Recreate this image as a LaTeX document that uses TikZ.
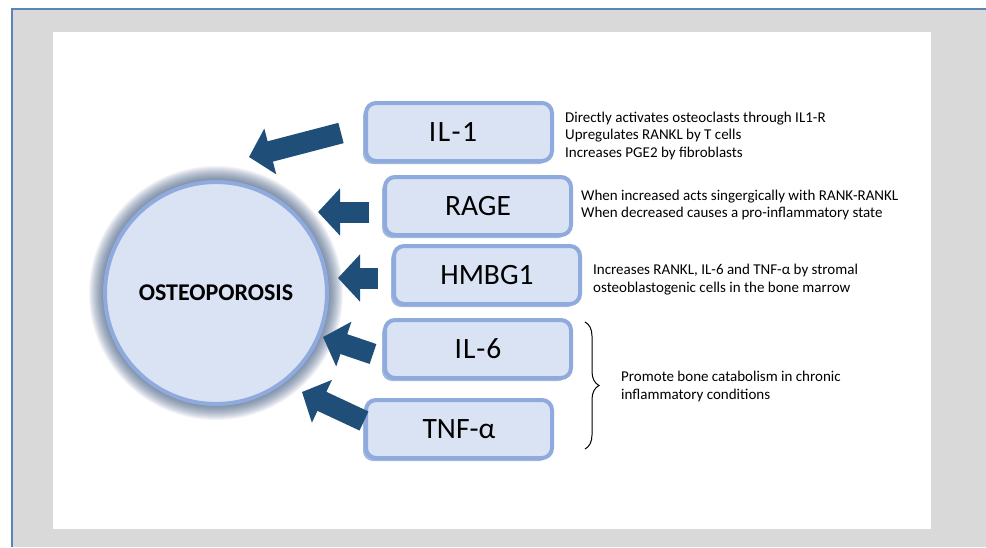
\documentclass[tikz,border=0pt]{standalone}
\usepackage{fontspec}
\setmainfont{Carlito}
\usetikzlibrary{arrows.meta,decorations.pathreplacing,shadows}
\definecolor{boxfill}{HTML}{DAE3F3}
\definecolor{boxline}{HTML}{8FAADC}
\definecolor{boxshadow}{HTML}{A3B8DF}
\definecolor{arrowc}{HTML}{1F4E79}
\definecolor{bggray}{HTML}{D9D9D9}
\definecolor{frameblue}{HTML}{5A84B5}
\definecolor{glowc}{HTML}{34507A}
\tikzset{
  cyto/.style={draw=boxline, fill=boxfill, line width=4pt, rounded corners=10pt,
    minimum width=186pt, minimum height=58pt, inner sep=0pt,
    font=\fontsize{29.5}{31}\selectfont,
    drop shadow={shadow xshift=-3pt, shadow yshift=-3pt, fill=boxshadow, opacity=1}},
  desc/.style={anchor=west, align=left, inner sep=0pt, font=\fontsize{15}{17.5}\selectfont},
  blockarrow/.style={draw=arrowc, line width=21pt, line cap=butt,
    -{Triangle[width=46pt,length=22pt]}},
}
\begin{document}
\begin{tikzpicture}[x=1pt,y=-1pt]
\useasboundingbox (0,0) rectangle (986,547);
\fill[white] (0,0) rectangle (986,547);
\fill[bggray] (12,9) rectangle (986,547);
\draw[frameblue, line width=2.2pt] (12,547) -- (12,9) -- (986,9);
\fill[white] (53,32) rectangle (931,529);
% glow around the circle
\foreach \k in {15,14,...,1} {
  \fill[glowc, opacity=0.06] (216,293) circle[radius=112+\k];
}
\node[circle, fill=boxfill, draw=boxline, line width=4pt, minimum size=222pt, inner sep=0pt,
  font=\bfseries\fontsize{24}{26}\selectfont] (osteo) at (216,293) {OSTEOPOROSIS};
% cytokine boxes
\node[cyto] (il1) at (459,132) {I\kern1.5ptL\kern1.5pt-\kern1.5pt1\kern12pt};
\node[cyto] (rage) at (478,206) {RAGE};
\node[cyto] (hmbg) at (487,275) {HMBG1};
\node[cyto] (il6) at (478,349) {I\kern1ptL\kern1pt-\kern1pt6};
\node[cyto] (tnf) at (459,429) {TNF-α};
% block arrows
\coordinate (t1) at (341,133); \coordinate (h1) at (249,157);
\coordinate (t2) at (369,212); \coordinate (h2) at (318,212);
\coordinate (t3) at (378,278); \coordinate (h3) at (338,278);
\coordinate (t4) at (373,354); \coordinate (h4) at (323,337);
\coordinate (t5) at (364,421); \coordinate (h5) at (302,392);
\draw[blockarrow] (t1) -- (h1);
\draw[blockarrow] (t2) -- (h2);
\draw[blockarrow] (t3) -- (h3);
\draw[blockarrow] (t4) -- (h4);
\draw[blockarrow] (t5) -- (h5);
% descriptions
\node[desc] (d1) at (565,135.5) {Directly activates osteoclasts through IL1-R\\Upregulates RANKL by T cells\\Increases\ PGE2 by fibroblasts};
\node[desc] (d2) at (581,205) {When increased acts singergically with RANK-RANKL\\When decreased\ causes a pro-inflammatory state};
\node[desc] (d3) at (593,279.5) {Increases\ RANKL, IL-6 and TNF-α by stromal\\osteoblastogenic\ cells in the bone marrow};
\node[desc] (d4) at (621,386.5) {Promote bone catabolism in chronic\\inflammatory conditions};
% brace
\coordinate (b1) at (585,322); \coordinate (b2) at (585,449);
\draw[line width=1pt, decorate, decoration={brace, amplitude=14pt}] (b1) -- (b2);
\end{tikzpicture}
\end{document}
